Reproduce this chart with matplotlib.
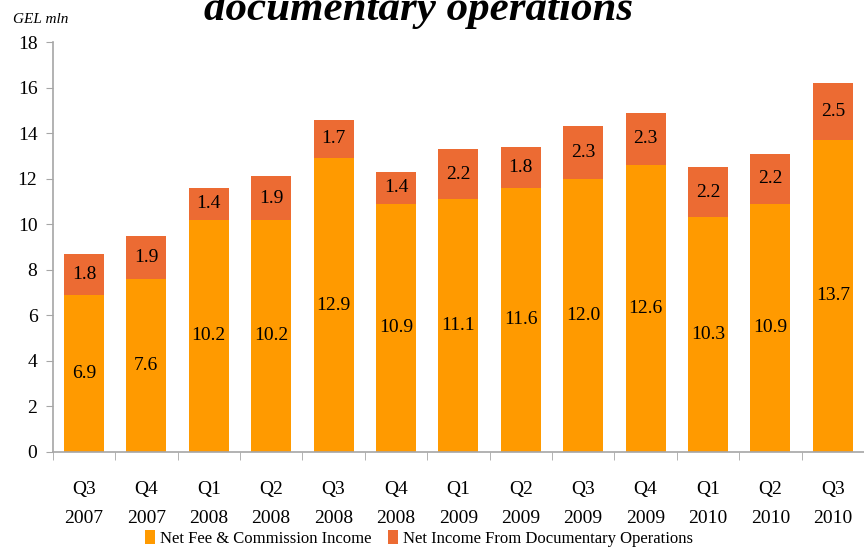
import numpy as np
import matplotlib
matplotlib.use("Agg")
import matplotlib.pyplot as plt
from matplotlib.ticker import FixedLocator, NullFormatter

plt.rcParams['font.family'] = ['Liberation Serif', 'DejaVu Serif']

quarters = ["Q3", "Q4", "Q1", "Q2", "Q3", "Q4", "Q1", "Q2", "Q3", "Q4", "Q1", "Q2", "Q3"]
years = ["2007", "2007", "2008", "2008", "2008", "2008", "2009", "2009", "2009", "2009",
         "2010", "2010", "2010"]
fee_income = [6.9, 7.6, 10.2, 10.2, 12.9, 10.9, 11.1, 11.6, 12.0, 12.6, 10.3, 10.9, 13.7]
doc_income = [1.8, 1.9, 1.4, 1.9, 1.7, 1.4, 2.2, 1.8, 2.3, 2.3, 2.2, 2.2, 2.5]

c_fee = "#FF9A00"
c_doc = "#EC6B33"
grey = "#A6A6A6"

fig = plt.figure(figsize=(8.64, 5.47), dpi=100)
ax = fig.add_axes([0.061, 0.174, 0.939, 0.749])

x = np.arange(len(fee_income))
fee = np.array(fee_income)
doc = np.array(doc_income)
ax.bar(x, fee, width=0.64, color=c_fee, label="Net Fee & Commission Income")
ax.bar(x, doc, width=0.64, bottom=fee, color=c_doc,
       label="Net Income From Documentary Operations")

for i in x:
    ax.text(i, fee[i] / 2, f"{fee[i]:.1f}", ha="center", va="center", fontsize=14)
    ax.text(i, fee[i] + doc[i] / 2, f"{doc[i]:.1f}", ha="center", va="center", fontsize=14)

ax.set_xlim(-0.5, len(x) - 0.5)
ax.set_ylim(0, 18)
ax.set_yticks(range(0, 19, 2))
ax.tick_params(axis="y", labelsize=14, color=grey, length=5, pad=6)

ax.set_xticks(x)
ax.set_xticklabels([f"{q}\n{y}" for q, y in zip(quarters, years)], linespacing=1.95)
ax.tick_params(axis="x", which="major", length=0, labelsize=14, pad=21)
ax.xaxis.set_minor_locator(FixedLocator(np.arange(-0.5, len(x), 1.0)))
ax.xaxis.set_minor_formatter(NullFormatter())
ax.tick_params(axis="x", which="minor", length=6, color=grey)

for s in ("top", "right"):
    ax.spines[s].set_visible(False)
for s in ("left", "bottom"):
    ax.spines[s].set_color(grey)
    ax.spines[s].set_linewidth(1.2)

fig.text(0.015, 0.958, "GEL mln", fontsize=11, style="italic")
fig.text(0.484, 0.982, "documentary operations", fontsize=31, style="italic",
         weight="bold", ha="center", va="center")

fig.legend(loc="center", bbox_to_anchor=(0.485, 0.016), ncol=2, frameon=False,
           fontsize=12, handlelength=0.6, handleheight=0.9, handletextpad=0.3,
           columnspacing=1.0, borderpad=0)

fig.savefig("out.png", dpi=100)
